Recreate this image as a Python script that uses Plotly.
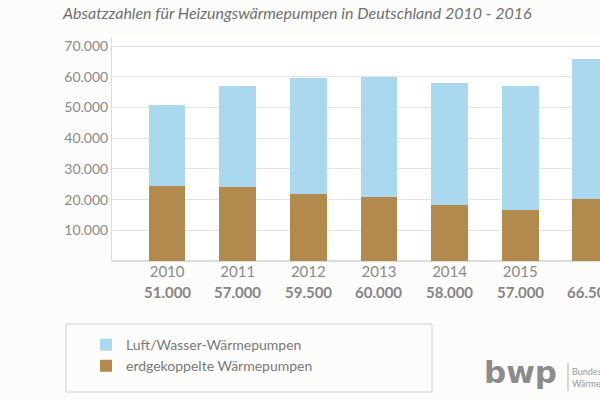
import plotly.graph_objects as go

# Absatzzahlen Heizungswaermepumpen 2010-2016
years = ["2010", "2011", "2012", "2013", "2014", "2015", "2016"]
totals_text = ["51.000", "57.000", "59.500", "60.000", "58.000", "57.000", "66.500"]
erdgekoppelt = [24500, 24200, 21800, 20700, 18300, 16700, 20200]
luft_wasser = [26500, 32800, 37700, 39300, 39700, 40300, 45600]
y_ticks = [10000, 20000, 30000, 40000, 50000, 60000, 70000]
y_ticktext = ["10.000", "20.000", "30.000", "40.000", "50.000", "60.000", "70.000"]

blue = "#a9d8ef"
brown = "#b38a4e"
grey = "#8a8a8a"
font = "Lato"

fig = go.Figure()
fig.add_trace(go.Bar(
    x=list(range(len(years))), y=erdgekoppelt,
    name="erdgekoppelte Wärmepumpen", marker_color=brown, marker_line_width=0,
    legendgroup="b", legendrank=2,
))
fig.add_trace(go.Bar(
    x=list(range(len(years))), y=luft_wasser,
    name="Luft/Wasser-Wärmepumpen", marker_color=blue, marker_line_width=0,
    legendgroup="a", legendrank=1,
))

# totals below the year labels
for i, t in enumerate(totals_text):
    fig.add_annotation(
        x=i, xref="x", y=(261 - 292) / 224, yref="paper", yanchor="middle",
        text="<b>" + t + "</b>",
        showarrow=False, font=dict(family=font, size=15, color="#858585"),
    )

# legend frame
fig.add_shape(type="rect", xref="paper", yref="paper",
              x0=(66 - 112) / 488, x1=(432 - 112) / 488,
              y0=(261 - 392) / 224, y1=(261 - 324) / 224,
              line=dict(color="#cfcfcf", width=1), fillcolor="rgba(0,0,0,0)")

# logo
fig.add_annotation(x=(482 - 112) / 488, xref="paper", y=(261 - 372) / 224, yref="paper",
                   xanchor="left", yanchor="middle",
                   text="<b>bwp</b>", showarrow=False,
                   font=dict(family="DejaVu Sans", size=31, color="#8c8c8c"))
fig.add_shape(type="line", xref="paper", yref="paper",
              x0=(568 - 112) / 488, x1=(568 - 112) / 488,
              y0=(261 - 391) / 224, y1=(261 - 363) / 224,
              line=dict(color="#b0b0b0", width=1))
fig.add_annotation(x=(570 - 112) / 488, xref="paper", y=(261 - 377) / 224, yref="paper",
                   xanchor="left", yanchor="middle", align="left",
                   text="Bundesverband<br>Wärmepumpe (BWP) e.V.", showarrow=False,
                   font=dict(family=font, size=9, color="#9a9a9a"))

fig.update_layout(
    width=600, height=400,
    barmode="stack", bargap=0.48,
    title=dict(text="<i>Absatzzahlen für Heizungswärmepumpen in Deutschland 2010 - 2016</i>",
               x=63 / 600, xanchor="left", y=1 - 13 / 400, yanchor="middle",
               font=dict(family=font, size=16, color="#707070")),
    paper_bgcolor="#fcfcfb", plot_bgcolor="white",
    margin=dict(l=112, r=0, t=37, b=139, autoexpand=False),
    font=dict(family=font, color=grey),
    legend=dict(
        x=(86 - 112) / 488, xanchor="left", y=(261 - 329) / 224, yanchor="top",
        traceorder="grouped", tracegroupgap=0,
        font=dict(family=font, size=14, color="#7a7a7a"),
        bgcolor="rgba(0,0,0,0)", itemwidth=30,
    ),
    xaxis=dict(
        range=[-0.78, 6.13], tickvals=list(range(len(years))), ticktext=years,
        showgrid=False, zeroline=False, showline=False, ticks="",
        tickfont=dict(family=font, size=15, color=grey), ticklabelstandoff=0,
    ),
    yaxis=dict(
        range=[0, 73000], tickvals=y_ticks, ticktext=y_ticktext,
        showgrid=True, gridcolor="#e4e4e4", gridwidth=1,
        showline=True, linecolor="#dcdcdc", linewidth=1,
        zeroline=True, zerolinecolor="#dcdcdc",
        tickfont=dict(family=font, size=14, color=grey), ticks="",
    ),
)

# page without the default body margin, so the figure sits at the window corner
fig.write_html("out.html", config={"displayModeBar": False},
               post_script="document.body.style.margin='0px';")
